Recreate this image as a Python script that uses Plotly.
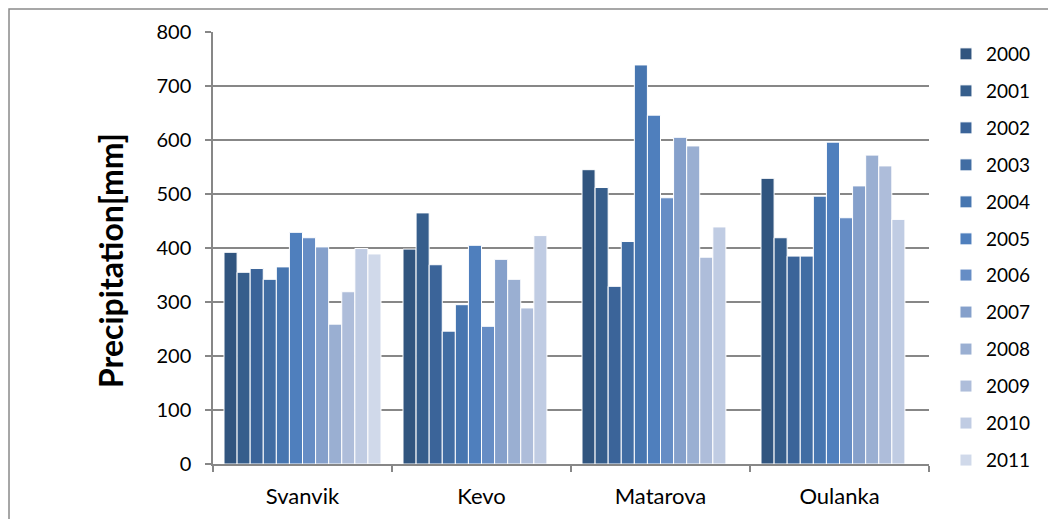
import plotly.graph_objects as go

stations = ["Svanvik", "Kevo", "Matarova", "Oulanka"]
years = ["2000", "2001", "2002", "2003", "2004", "2005",
         "2006", "2007", "2008", "2009", "2010", "2011"]

svanvik = [392, 355, 362, 342, 365, 429, 419, 402, 259, 319, 399, 389]
kevo = [398, 465, 369, 246, 295, 405, 255, 379, 342, 289, 423, None]
matarova = [545, 512, 329, 412, 739, 646, 493, 605, 589, 383, 439, None]
oulanka = [529, 419, 385, 385, 496, 596, 456, 515, 572, 552, 453, None]

colors = ["#31557F", "#365E8C", "#3B6499", "#416DA3", "#4776B0", "#4F7FBD",
          "#668DC5", "#85A0CB", "#9AAFD2", "#AEBDDA", "#C0CCE3", "#D0D9EA"]

by_station = [svanvik, kevo, matarova, oulanka]

fig = go.Figure()
for i, yr in enumerate(years):
    fig.add_trace(go.Bar(
        x=stations,
        y=[s[i] for s in by_station],
        name=yr,
        legendgroup=yr,
        legend="legend" if i < 6 else "legend2",
        marker=dict(color=colors[i], line=dict(color="white", width=1)),
    ))

FONT = "Lato"
GRID = "#878787"

legend_style = dict(
    xanchor="left", yanchor="top",
    traceorder="grouped", tracegroupgap=9.3,
    font=dict(family=FONT, size=19, color="black"),
    bgcolor="rgba(0,0,0,0)",
)

fig.update_layout(
    width=1048, height=511,
    margin=dict(l=205, r=127, t=24, b=55, autoexpand=False),
    paper_bgcolor="white", plot_bgcolor="white",
    barmode="group", bargap=0.123, bargroupgap=0,
    font=dict(family=FONT, color="black", size=19),
    legend=dict(x=1.0237, y=0.993, **legend_style),
    legend2=dict(x=1.0237, y=0.481, **legend_style),
    xaxis=dict(
        showline=True, linecolor=GRID, linewidth=1.5,
        ticks="outside", tickson="boundaries", ticklen=6, tickcolor=GRID,
        tickwidth=1.5,
        tickfont=dict(family=FONT, size=22, color="black"),
        ticklabelstandoff=12,
        showgrid=False,
    ),
    yaxis=dict(
        range=[0, 800], dtick=100, tick0=0,
        showline=True, linecolor=GRID, linewidth=1.5,
        ticks="outside", ticklen=6, tickcolor=GRID, tickwidth=1.5,
        showgrid=True, gridcolor=GRID, gridwidth=1.5,
        zeroline=False,
        tickfont=dict(family=FONT, size=20, color="black"),
        ticklabelstandoff=10,
    ),
    annotations=[dict(
        text="<b>Precipitation[mm]</b>", textangle=-90,
        xref="paper", yref="paper", x=-0.1439, y=0.472,
        xanchor="center", yanchor="middle", showarrow=False,
        font=dict(family=FONT, size=32, color="black"),
    )],
    shapes=[dict(type="rect", xref="paper", yref="paper",
                 x0=-0.2849, x1=1.2, y0=-0.15, y1=1.0532,
                 line=dict(color="#8a8a8a", width=1.5), layer="below")],
)

fig.write_html("out.html")
